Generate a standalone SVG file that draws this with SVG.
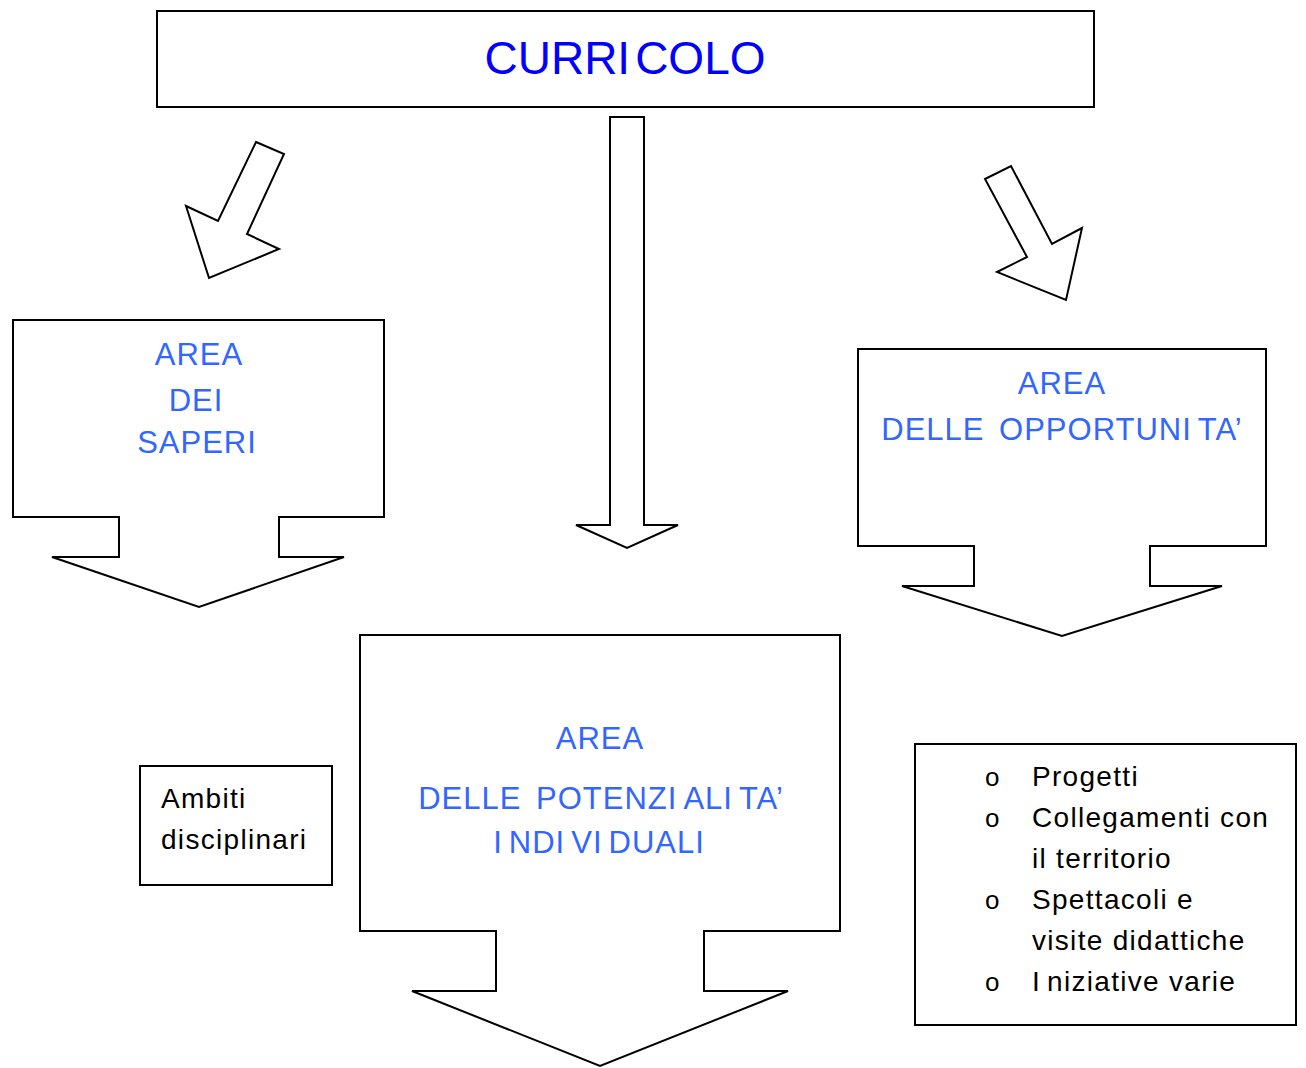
<svg xmlns="http://www.w3.org/2000/svg" width="1306" height="1068" viewBox="0 0 1306 1068">
  <style>
    .shape { fill: #ffffff; stroke: #000000; stroke-width: 2; stroke-linejoin: miter; }
    .title { font-family: "Liberation Sans", Arial, sans-serif; font-size: 46px; fill: #0000ff; text-anchor: middle; }
    .area { font-family: "Liberation Sans", Arial, sans-serif; font-size: 31px; fill: #3366ff; text-anchor: middle; letter-spacing: 1px; word-spacing: 5px; }
    .body { font-family: "Liberation Sans", Arial, sans-serif; font-size: 28px; fill: #000000; letter-spacing: 1.3px; }
    .bullet { font-family: "Liberation Sans", Arial, sans-serif; font-size: 26px; fill: #000000; }
  </style>
  <rect width="1306" height="1068" fill="#ffffff"/>

  <g id="connectors">
    <polygon class="shape" points="256,142 284,154 247,234 279,249 209,278 186,206 218,221"/>
    <polygon class="shape" points="610,117 644,117 644,525 678,525 627,548 576,525 610,525"/>
    <polygon class="shape" points="985,179 1011,166 1052,244 1082,228 1066,300 997,272 1027,257"/>
  </g>

  <g id="curricolo">
    <rect class="shape" x="157" y="11" width="937" height="96"/>
    <text class="title" x="625" y="74">CURRI<tspan dx="5">COLO</tspan></text>
  </g>

  <g id="area-saperi">
    <polygon class="shape" points="13,320 384,320 384,517 279,517 279,557 344,557 199,607 52,557 119,557 119,517 13,517"/>
    <text class="area" x="199" y="365">AREA</text>
    <text class="area" x="196" y="411">DEI</text>
    <text class="area" x="197" y="453">SAPERI</text>
  </g>

  <g id="area-opportunita">
    <polygon class="shape" points="858,349 1266,349 1266,546 1150,546 1150,586 1222,586 1062,636 902,586 974,586 974,546 858,546"/>
    <text class="area" x="1062" y="394">AREA</text>
    <text class="area" x="1062" y="440">DELLE OPPORTUNI<tspan dx="6">TA’</tspan></text>
  </g>

  <g id="area-potenzialita">
    <polygon class="shape" points="360,635 840,635 840,931 704,931 704,991 788,991 600,1066 412,991 496,991 496,931 360,931"/>
    <text class="area" x="600" y="749">AREA</text>
    <text class="area" x="601" y="809">DELLE POTENZI<tspan dx="6">ALI</tspan><tspan dx="6">TA’</tspan></text>
    <text class="area" x="599" y="853">I<tspan dx="6">NDI</tspan><tspan dx="6">VI</tspan><tspan dx="6">DUALI</tspan></text>
  </g>

  <g id="ambiti">
    <rect class="shape" x="140" y="766" width="192" height="119"/>
    <text class="body" x="161" y="808">Ambiti</text>
    <text class="body" x="161" y="849">disciplinari</text>
  </g>

  <g id="opportunita-list">
    <rect class="shape" x="915" y="744" width="381" height="281"/>
    <text class="bullet" x="985" y="786">o</text>
    <text class="body" x="1032" y="786">Progetti</text>
    <text class="bullet" x="985" y="827">o</text>
    <text class="body" x="1032" y="827">Collegamenti con</text>
    <text class="body" x="1032" y="868">il territorio</text>
    <text class="bullet" x="985" y="909">o</text>
    <text class="body" x="1032" y="909">Spettacoli e</text>
    <text class="body" x="1032" y="950">visite didattiche</text>
    <text class="bullet" x="985" y="991">o</text>
    <text class="body" x="1032" y="991">I<tspan dx="6">niziative varie</tspan></text>
  </g>
</svg>
